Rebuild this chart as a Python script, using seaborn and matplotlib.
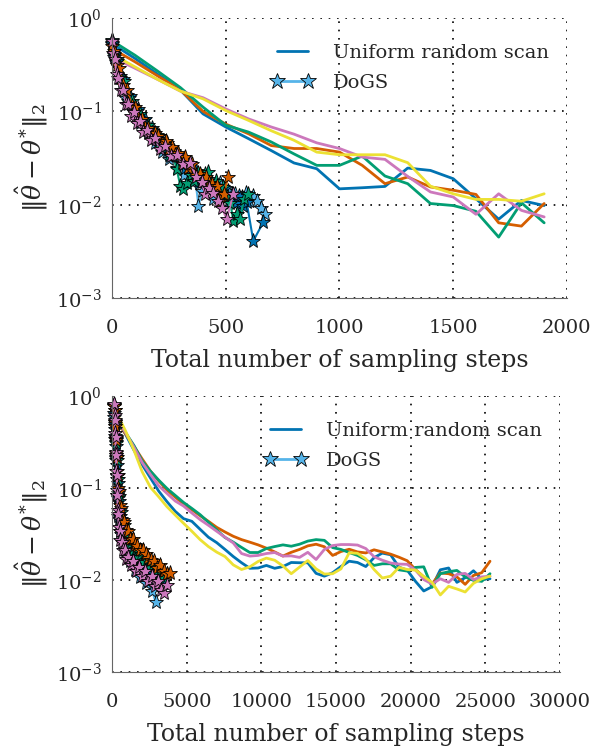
import numpy as np
import matplotlib
matplotlib.use("Agg")
import matplotlib.pyplot as plt
from matplotlib.lines import Line2D
import seaborn as sns

# ---- top panel: uniform random scan (every 100 steps) ----
top_x = np.arange(0, 2000, 100)
top_blue = [0.53, 0.37, 0.25, 0.17, 0.094, 0.068, 0.051, 0.038, 0.028, 0.0243,
            0.0148, 0.0152, 0.0157, 0.0247, 0.0233, 0.019, 0.0116, 0.0070, 0.0111, 0.0098]
top_orange = [0.47, 0.34, 0.24, 0.17, 0.10, 0.073, 0.0575, 0.043, 0.040, 0.040,
              0.0366, 0.0264, 0.0168, 0.0198, 0.0155, 0.0143, 0.0129, 0.0064, 0.0059, 0.0103]
top_green = [0.57, 0.40, 0.27, 0.18, 0.111, 0.071, 0.060, 0.047, 0.035, 0.0264,
             0.0264, 0.0332, 0.0203, 0.0168, 0.0103, 0.0098, 0.0085, 0.0045, 0.0105, 0.0064]
top_pink = [0.38, 0.29, 0.22, 0.165, 0.14, 0.106, 0.083, 0.068, 0.057, 0.046,
            0.040, 0.0324, 0.0306, 0.0201, 0.0137, 0.0121, 0.0079, 0.0131, 0.0087, 0.0074]
top_yellow = [0.41, 0.30, 0.22, 0.165, 0.136, 0.102, 0.080, 0.062, 0.049, 0.0366,
              0.0343, 0.0343, 0.0343, 0.0282, 0.0158, 0.0131, 0.0114, 0.0114, 0.0109, 0.0131]

# ---- top panel: DoGS runs ----
dogs_top_sky_x = [0, 8, 18, 30, 44, 60, 76, 92, 108, 124, 140, 156, 172, 188, 204, 220, 236, 252,
                  268, 284, 300, 316, 332, 348, 364, 380, 396, 412, 428, 444, 460, 476, 492, 508,
                  524, 540, 556, 572, 588, 604, 620, 636, 655, 672]
dogs_top_sky_y = [0.52, 0.38, 0.34, 0.23, 0.21, 0.14, 0.14, 0.10, 0.10, 0.075, 0.080, 0.058,
                  0.062, 0.046, 0.050, 0.037, 0.041, 0.031, 0.034, 0.025, 0.029, 0.021, 0.025,
                  0.018, 0.020, 0.0098, 0.014, 0.017, 0.019, 0.0115, 0.015, 0.017, 0.012, 0.014,
                  0.011, 0.013, 0.0095, 0.012, 0.0135, 0.011, 0.0125, 0.011, 0.0092, 0.0079]
dogs_top_blue_x = [0, 9, 20, 33, 48, 64, 80, 96, 112, 128, 144, 160, 176, 192, 208, 224, 240, 256,
                   272, 288, 304, 320, 336, 352, 368, 384, 400, 416, 432, 448, 464, 480, 496, 512,
                   528, 544, 560, 576, 592, 621, 665]
dogs_top_blue_y = [0.54, 0.40, 0.35, 0.24, 0.22, 0.15, 0.145, 0.10, 0.105, 0.078, 0.083, 0.062,
                   0.066, 0.050, 0.055, 0.041, 0.046, 0.035, 0.038, 0.029, 0.032, 0.025, 0.028,
                   0.021, 0.023, 0.017, 0.020, 0.015, 0.018, 0.014, 0.016, 0.0125, 0.015, 0.011,
                   0.013, 0.0105, 0.0125, 0.0098, 0.0106, 0.0041, 0.0065]
dogs_top_green_x = [0, 10, 22, 36, 52, 70, 88, 106, 124, 142, 160, 178, 196, 214, 232, 250, 268,
                    284, 300, 313, 330, 346, 362, 378, 394, 410, 423, 440, 456, 472, 488, 504, 520,
                    533, 548, 563, 580, 599]
dogs_top_green_y = [0.58, 0.41, 0.36, 0.23, 0.21, 0.13, 0.13, 0.088, 0.094, 0.068, 0.072, 0.052,
                    0.056, 0.042, 0.045, 0.034, 0.036, 0.024, 0.016, 0.0147, 0.017, 0.021, 0.018,
                    0.022, 0.019, 0.0215, 0.0222, 0.016, 0.018, 0.013, 0.0155, 0.012, 0.0105,
                    0.0067, 0.0079, 0.0071, 0.0115, 0.013]
dogs_top_orange_x = [0, 8, 20, 32, 50, 66, 86, 100, 116, 130, 145, 160, 175, 190, 204, 220, 235,
                     250, 262, 278, 292, 306, 321, 336, 352, 370, 387, 400, 412, 425, 438, 450,
                     462, 475, 490, 511]
dogs_top_orange_y = [0.50, 0.44, 0.31, 0.29, 0.19, 0.17, 0.115, 0.11, 0.085, 0.083, 0.066, 0.066,
                     0.054, 0.058, 0.0548, 0.045, 0.048, 0.040, 0.0411, 0.034, 0.036, 0.028,
                     0.0321, 0.025, 0.027, 0.021, 0.0213, 0.018, 0.020, 0.017, 0.0166, 0.014,
                     0.016, 0.011, 0.013, 0.0196]
dogs_top_pink_x = [0, 6, 12, 20, 28, 38, 50, 60, 72, 84, 96, 110, 123, 138, 152, 170, 189, 210,
                   233, 258, 284, 310, 343, 370, 394, 409, 428, 445, 465, 482, 504, 533]
dogs_top_pink_y = [0.56, 0.42, 0.36, 0.25, 0.23, 0.17, 0.17, 0.12, 0.12, 0.09, 0.098, 0.075,
                   0.078, 0.060, 0.063, 0.049, 0.052, 0.040, 0.043, 0.033, 0.034, 0.027, 0.028,
                   0.020, 0.0174, 0.013, 0.015, 0.0135, 0.011, 0.0093, 0.0070, 0.013]

# ---- bottom panel: uniform random scan ----
bot_x = np.arange(350, 25400, 555)
bot_blue = [0.597, 0.384, 0.260, 0.180, 0.129, 0.0927, 0.0711, 0.0558, 0.0465, 0.0435,
            0.0356, 0.0292, 0.0255, 0.0215, 0.0180, 0.0154, 0.0134, 0.0135, 0.0144, 0.0134,
            0.0140, 0.0155, 0.0154, 0.0154, 0.0118, 0.0110, 0.0120, 0.0140, 0.0160, 0.0155,
            0.0140, 0.0175, 0.0196, 0.0188, 0.0138, 0.0128, 0.00966, 0.00759, 0.00845, 0.0129,
            0.0135, 0.00942, 0.0106, 0.0126, 0.0102, 0.0103]
bot_orange = [0.519, 0.388, 0.287, 0.208, 0.153, 0.120, 0.0951, 0.0798, 0.0670, 0.0582,
              0.0501, 0.0435, 0.0374, 0.0333, 0.0299, 0.0275, 0.0258, 0.0241, 0.0222, 0.0202,
              0.0182, 0.0200, 0.0215, 0.0235, 0.0245, 0.0230, 0.0185, 0.0204, 0.0216, 0.0202,
              0.0197, 0.0213, 0.0202, 0.0191, 0.0177, 0.0162, 0.0130, 0.0108, 0.00904, 0.0119,
              0.0117, 0.0108, 0.00896, 0.0112, 0.0120, 0.0160]
bot_green = [0.545, 0.401, 0.292, 0.198, 0.153, 0.122, 0.0991, 0.0832, 0.0698, 0.0601,
             0.0514, 0.0425, 0.0351, 0.0290, 0.0258, 0.0226, 0.0199, 0.0199, 0.0220, 0.0231,
             0.0241, 0.0233, 0.0245, 0.0265, 0.0275, 0.0270, 0.0225, 0.0215, 0.0199, 0.0185,
             0.0166, 0.0144, 0.0150, 0.0150, 0.0129, 0.0125, 0.0137, 0.0139, 0.00832, 0.0117,
             0.0123, 0.0127, 0.0108, 0.00990, 0.00966, 0.0117]
bot_pink = [0.559, 0.401, 0.280, 0.190, 0.141, 0.106, 0.0875, 0.0723, 0.0638, 0.0536,
            0.0454, 0.0394, 0.0339, 0.0292, 0.0253, 0.0194, 0.0182, 0.0185, 0.0194, 0.0199,
            0.0182, 0.0183, 0.0176, 0.0200, 0.0167, 0.0215, 0.0237, 0.0243, 0.0243, 0.0240,
            0.0220, 0.0179, 0.0164, 0.0153, 0.0149, 0.0148, 0.0128, 0.0101, 0.00904, 0.0103,
            0.00942, 0.0115, 0.0118, 0.0101, 0.0108, 0.0110]
bot_yellow = [0.633, 0.418, 0.260, 0.151, 0.102, 0.0805, 0.0627, 0.0509, 0.0414, 0.0339,
              0.0275, 0.0231, 0.0201, 0.0180, 0.0146, 0.0130, 0.0139, 0.0159, 0.0173, 0.0164,
              0.0142, 0.0117, 0.0138, 0.0163, 0.0132, 0.0116, 0.0117, 0.0132, 0.0198, 0.0195,
              0.0170, 0.0130, 0.0105, 0.0110, 0.0137, 0.0130, 0.0128, 0.0109, 0.00942, 0.00687,
              0.00853, 0.00798, 0.00740, 0.00919, 0.0103, 0.0110]

# ---- bottom panel: DoGS runs ----
dogs_bot_sky_x = [130, 150, 175, 200, 225, 250, 275, 300, 325, 350, 380, 420, 470, 540, 630, 730,
                  840, 960, 1090, 1230, 1380, 1540, 1710, 1890, 2080, 2280, 2490, 2700, 2920]
dogs_bot_sky_y = [0.80, 0.60, 0.54, 0.37, 0.34, 0.23, 0.21, 0.14, 0.135, 0.085, 0.080, 0.050,
                  0.046, 0.034, 0.032, 0.025, 0.025, 0.020, 0.020, 0.016, 0.0165, 0.013, 0.0135,
                  0.0108, 0.0115, 0.0092, 0.0098, 0.0075, 0.0057]
dogs_bot_blue_x = [135, 160, 185, 210, 235, 260, 285, 310, 335, 365, 400, 445, 500, 570, 650, 740,
                   850, 970, 1100, 1240, 1390, 1550, 1720, 1900, 2090, 2290, 2500, 2710, 2930,
                   3150, 3380]
dogs_bot_blue_y = [0.79, 0.66, 0.50, 0.44, 0.32, 0.29, 0.20, 0.18, 0.125, 0.115, 0.078, 0.072,
                   0.050, 0.046, 0.035, 0.034, 0.027, 0.027, 0.022, 0.022, 0.018, 0.0185, 0.015,
                   0.016, 0.013, 0.0138, 0.0115, 0.012, 0.0102, 0.0108, 0.0095]
dogs_bot_green_x = [145, 170, 195, 220, 245, 270, 295, 320, 345, 375, 410, 455, 510, 580, 670,
                    770, 880, 1000, 1130, 1270, 1420, 1580, 1750, 1930, 2120, 2320, 2530, 2750,
                    2980, 3220, 3470, 3700]
dogs_bot_green_y = [0.81, 0.70, 0.52, 0.47, 0.34, 0.31, 0.22, 0.20, 0.14, 0.125, 0.088, 0.082,
                    0.058, 0.055, 0.041, 0.040, 0.031, 0.031, 0.025, 0.025, 0.021, 0.0215, 0.018,
                    0.019, 0.0158, 0.0165, 0.0138, 0.0145, 0.012, 0.0125, 0.0105, 0.0115]
dogs_bot_orange_x = [140, 165, 190, 215, 240, 265, 290, 315, 340, 370, 410, 460, 530, 620, 720,
                     830, 950, 1080, 1220, 1370, 1530, 1700, 1880, 2060, 2250, 2440, 2630, 2830,
                     3030, 3240, 3450, 3700, 3880]
dogs_bot_orange_y = [0.78, 0.70, 0.52, 0.48, 0.35, 0.33, 0.24, 0.22, 0.155, 0.14, 0.10, 0.092,
                     0.066, 0.060, 0.045, 0.043, 0.035, 0.034, 0.028, 0.028, 0.024, 0.0235, 0.021,
                     0.021, 0.019, 0.0175, 0.0165, 0.016, 0.0136, 0.0145, 0.0125, 0.0115, 0.012]
dogs_bot_pink_x = [150, 170, 190, 210, 230, 250, 270, 290, 310, 330, 355, 380, 410, 450, 500, 560,
                   640, 730, 840, 960, 1100, 1250, 1420, 1600, 1800, 2000, 2200, 2420, 2650, 2880,
                   3100, 3300, 3480, 3650]
dogs_bot_pink_y = [0.82, 0.62, 0.55, 0.40, 0.36, 0.25, 0.23, 0.155, 0.14, 0.095, 0.085, 0.058,
                   0.052, 0.038, 0.034, 0.027, 0.026, 0.021, 0.021, 0.017, 0.018, 0.0145, 0.016,
                   0.0125, 0.014, 0.011, 0.0125, 0.0098, 0.011, 0.0085, 0.0098, 0.0078, 0.0073,
                   0.0088]

sns.set_style("white")
plt.rcParams["font.family"] = ["DejaVu Serif"]
plt.rcParams["mathtext.fontset"] = "dejavuserif"

cb = sns.color_palette("colorblind")
c_blue, c_orange, c_green, c_pink, c_yellow, c_sky = cb[0], cb[3], cb[2], cb[4], cb[8], cb[9]

fig = plt.figure(figsize=(5.93, 7.49), dpi=100)
ax1 = fig.add_axes([0.189, 0.602, 0.767, 0.374])
ax2 = fig.add_axes([0.189, 0.103, 0.755, 0.368])

star_kw = dict(marker="*", markersize=11, markeredgecolor="black", markeredgewidth=0.6,
               linewidth=1.5, clip_on=False)


def draw_panel(ax, ux, uniform, dogs, xmax, xticks):
    for y, c in uniform:
        sns.lineplot(x=ux, y=y, ax=ax, color=c, linewidth=2, estimator=None, sort=False)
    for x, y, c in dogs:
        sns.lineplot(x=x, y=y, ax=ax, color=c, estimator=None, sort=False, **star_kw)
    ax.set_yscale("log")
    ax.set_ylim(1e-3, 1)
    ax.set_xlim(0, xmax)
    ax.set_xticks(xticks)
    ax.set_xticklabels([str(t) for t in xticks])
    ax.grid(True, which="major", color="black", linestyle=(0, (1, 4)), linewidth=1.2)
    ax.grid(False, which="minor")
    for s in ["top", "right"]:
        ax.spines[s].set_visible(False)
    for s in ["left", "bottom"]:
        ax.spines[s].set_color("#666666")
        ax.spines[s].set_linewidth(0.8)
    ax.tick_params(axis="x", which="major", direction="out", length=6, color="#888888",
                   labelsize=14, pad=9)
    ax.tick_params(axis="y", which="major", direction="inout", length=8, color="#555555",
                   labelsize=14)
    ax.tick_params(axis="y", which="minor", direction="in", length=4, color="black")
    ax.minorticks_on()
    ax.tick_params(axis="x", which="minor", bottom=False)
    ax.set_xlabel("Total number of sampling steps", fontsize=17, labelpad=9)
    ax.set_ylabel(r"$\|\hat{\theta} - \theta^{*}\|_2$", fontsize=18, labelpad=4)
    handles = [Line2D([], [], color=c_blue, linewidth=2),
               Line2D([], [], color=c_sky, linewidth=2, marker="*", markersize=12,
                      markeredgecolor="black", markeredgewidth=0.6)]
    ax.legend(handles, ["Uniform random scan", "DoGS"], loc="upper right", frameon=False,
              fontsize=14, numpoints=2, handlelength=2.2, handletextpad=1.0,
              labelspacing=0.6, bbox_to_anchor=(1.0, 0.97))


top_uniform = [(top_blue, c_blue), (top_orange, c_orange), (top_green, c_green),
               (top_pink, c_pink), (top_yellow, c_yellow)]
top_dogs = [(dogs_top_sky_x, dogs_top_sky_y, c_sky), (dogs_top_blue_x, dogs_top_blue_y, c_blue),
            (dogs_top_green_x, dogs_top_green_y, c_green),
            (dogs_top_orange_x, dogs_top_orange_y, c_orange),
            (dogs_top_pink_x, dogs_top_pink_y, c_pink)]
draw_panel(ax1, top_x, top_uniform, top_dogs, 2000, [0, 500, 1000, 1500, 2000])

bot_uniform = [(bot_blue, c_blue), (bot_orange, c_orange), (bot_green, c_green),
               (bot_pink, c_pink), (bot_yellow, c_yellow)]
bot_dogs = [(dogs_bot_sky_x, dogs_bot_sky_y, c_sky), (dogs_bot_blue_x, dogs_bot_blue_y, c_blue),
            (dogs_bot_green_x, dogs_bot_green_y, c_green),
            (dogs_bot_orange_x, dogs_bot_orange_y, c_orange),
            (dogs_bot_pink_x, dogs_bot_pink_y, c_pink)]
draw_panel(ax2, bot_x, bot_uniform, bot_dogs, 30000,
           [0, 5000, 10000, 15000, 20000, 25000, 30000])

fig.savefig("out.png", dpi=100)
